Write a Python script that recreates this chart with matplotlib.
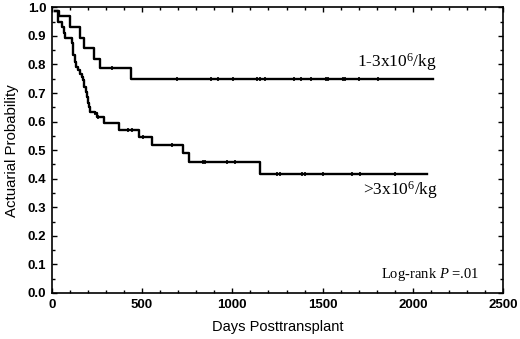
import numpy as np
import matplotlib
matplotlib.use("Agg")
import matplotlib.pyplot as plt
from matplotlib.ticker import MultipleLocator, FormatStrFormatter

# --- data ---
low_dose_t = [20, 42, 101, 155, 179, 234, 266, 437, 2110]
low_dose_s = [0.988, 0.969, 0.930, 0.894, 0.859, 0.820, 0.786, 0.749, 0.749]
low_dose_cens = [332, 696, 884, 921, 1004, 1137, 1151, 1179, 1342, 1379,
                 1434, 1521, 1530, 1613, 1622, 1701, 1807]

high_dose_t = [20, 37, 55, 68, 74, 111, 116, 120, 127, 135, 147, 157, 166,
               175, 181, 188, 194, 199, 205, 212, 240, 253, 290, 373, 483,
               554, 729, 760, 1153, 2080]
high_dose_s = [0.988, 0.950, 0.932, 0.909, 0.891, 0.874, 0.851, 0.833, 0.810,
               0.792, 0.781, 0.767, 0.755, 0.746, 0.722, 0.705, 0.687, 0.664,
               0.652, 0.635, 0.629, 0.617, 0.594, 0.571, 0.547, 0.518, 0.489,
               0.460, 0.418, 0.418]
high_dose_cens = [240, 258, 424, 443, 507, 668, 840, 849, 969, 1015, 1249,
                  1264, 1388, 1403, 1501, 1661, 1707, 1901]

plt.rcParams["font.family"] = "Liberation Sans"
plt.rcParams["mathtext.fontset"] = "custom"
plt.rcParams["mathtext.rm"] = "Liberation Serif"
plt.rcParams["mathtext.it"] = "Liberation Serif:italic"


def step_value(t, s, x):
    idx = np.searchsorted(t, x, side="right") - 1
    return np.array(s)[idx]


fig = plt.figure(figsize=(5.2, 3.39), dpi=100)
ax = fig.add_axes([0.0994, 0.1357, 0.8686, 0.8428])

for t, s, c in [(low_dose_t, low_dose_s, low_dose_cens),
                (high_dose_t, high_dose_s, high_dose_cens)]:
    ax.plot(t, s, drawstyle="steps-post", color="black", lw=1.7)
    ax.plot(c, step_value(t, s, c), ls="none", marker="|", ms=3.5,
            mew=1.2, color="black")

ax.set_xlim(0, 2500)
ax.set_ylim(0, 1.0)
ax.xaxis.set_major_locator(MultipleLocator(500))
ax.xaxis.set_minor_locator(MultipleLocator(100))
ax.yaxis.set_major_locator(MultipleLocator(0.1))
ax.yaxis.set_minor_locator(MultipleLocator(0.05))
ax.yaxis.set_major_formatter(FormatStrFormatter("%.1f"))
ax.tick_params(which="both", direction="in", top=True, right=True, width=1)
ax.tick_params(which="major", length=3.5, pad=4, labelsize=9.5)
ax.tick_params(which="minor", length=2)
for lab in ax.get_xticklabels() + ax.get_yticklabels():
    lab.set_fontweight("bold")
for sp in ax.spines.values():
    sp.set_linewidth(1.2)

ax.set_xlabel("Days Posttransplant", fontsize=10.5, labelpad=7)
ax.set_ylabel("Actuarial Probability", fontsize=10.8, labelpad=6)

ax.text(2133, 0.81, r"1-3x10$^6$/kg", family="Liberation Serif", fontsize=12.5,
        ha="right", va="center")
ax.text(2140, 0.36, r">3x10$^6$/kg", family="Liberation Serif", fontsize=12.5,
        ha="right", va="center")
ax.text(2368, 0.063, r"Log-rank $P$ =.01", family="Liberation Serif",
        fontsize=10.5, ha="right", va="center")

fig.savefig("out.png", dpi=100)
